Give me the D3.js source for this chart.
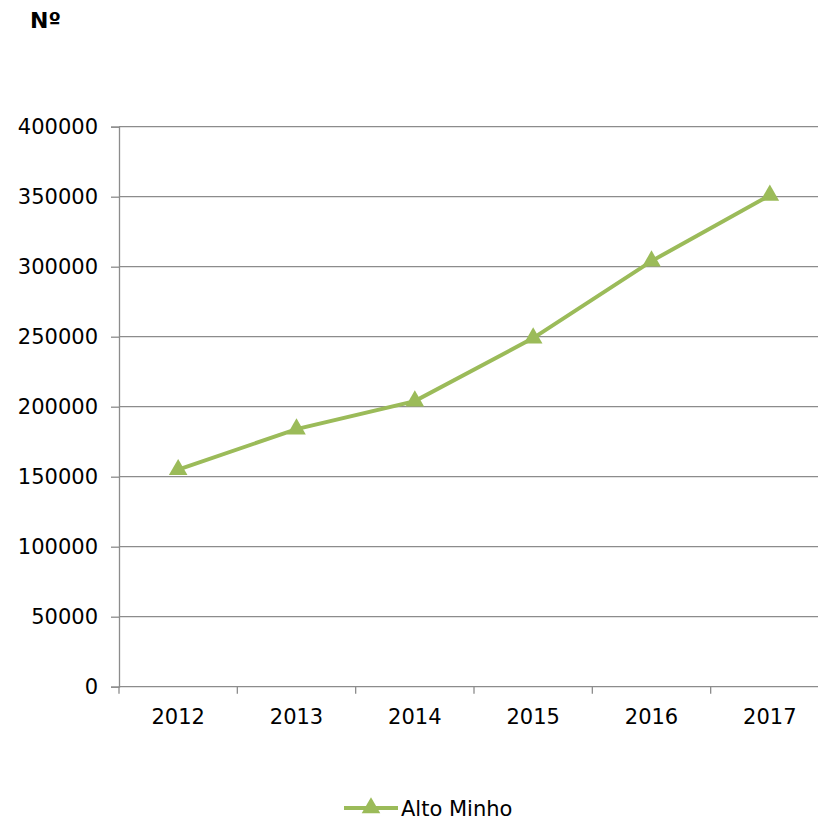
<!DOCTYPE html>
<html>
<head>
<meta charset="utf-8">
<script src="https://cdn.jsdelivr.net/npm/d3@7"></script>
<style>
  body { margin: 0; background: #fff; }
  svg { display: block; font-family: "DejaVu Sans", Verdana, sans-serif; }
</style>
</head>
<body>
<script>
const years = ['2012', '2013', '2014', '2015', '2016', '2017'];
const altoMinho = [155000, 184000, 204000, 249000, 304000, 351000];
const yTicks = [0, 50000, 100000, 150000, 200000, 250000, 300000, 350000, 400000];
const seriesName = 'Alto Minho';
const unitLabel = 'Nº';

const W = 818, H = 820;
const plot = { left: 119, right: 829, top: 126.7, bottom: 686.7 };
const green = '#9bbb59';
const grey = '#8c8c8c';
const fs = 21;

const svg = d3.select('body').append('svg')
    .attr('width', W)
    .attr('height', H);

const x = d3.scaleBand()
    .domain(years)
    .range([plot.left, plot.right]);

const y = d3.scaleLinear()
    .domain([0, 400000])
    .range([plot.bottom, plot.top]);

// gridlines
svg.append('g')
   .selectAll('line')
   .data(yTicks.filter(d => d > 0))
   .enter()
   .append('line')
   .attr('x1', plot.left)
   .attr('x2', plot.right)
   .attr('y1', d => y(d))
   .attr('y2', d => y(d))
   .attr('stroke', grey)
   .attr('stroke-width', 1.3);

// y axis
const yAxis = d3.axisLeft(y)
    .tickValues(yTicks)
    .tickFormat(d3.format('d'))
    .tickSize(8)
    .tickPadding(13);

const gy = svg.append('g')
   .attr('transform', 'translate(' + plot.left + ',0)')
   .call(yAxis);
gy.select('.domain').attr('stroke', grey).attr('stroke-width', 1.3);
gy.selectAll('.tick line').attr('stroke', grey).attr('stroke-width', 1.3);
gy.selectAll('.tick text')
  .attr('font-size', fs)
  .attr('font-family', '"DejaVu Sans", Verdana, sans-serif')
  .attr('fill', '#000');

// x axis, ticks between categories
const gx = svg.append('g')
   .attr('transform', 'translate(0,' + plot.bottom + ')');
gx.append('line')
  .attr('x1', plot.left)
  .attr('x2', plot.right)
  .attr('stroke', grey)
  .attr('stroke-width', 1.3);
gx.selectAll('line.tk')
  .data(years)
  .enter()
  .append('line')
  .attr('class', 'tk')
  .attr('x1', d => x(d))
  .attr('x2', d => x(d))
  .attr('y1', 0)
  .attr('y2', 7)
  .attr('stroke', grey)
  .attr('stroke-width', 1.3);
gx.selectAll('text')
  .data(years)
  .enter()
  .append('text')
  .attr('x', d => x(d) + x.bandwidth() / 2)
  .attr('y', 37)
  .attr('text-anchor', 'middle')
  .attr('font-size', fs)
  .text(d => d);

// line
const line = d3.line()
    .x((d, i) => x(years[i]) + x.bandwidth() / 2)
    .y(d => y(d));

svg.append('path')
   .datum(altoMinho)
   .attr('d', line)
   .attr('fill', 'none')
   .attr('stroke', green)
   .attr('stroke-width', 4);

const tri = d3.symbol().type(d3.symbolTriangle).size(150);

svg.append('g')
   .selectAll('path')
   .data(altoMinho)
   .enter()
   .append('path')
   .attr('d', tri)
   .attr('transform', (d, i) => 'translate(' + (x(years[i]) + x.bandwidth() / 2) + ',' + y(d) + ')')
   .attr('fill', green);

// unit label
svg.append('text')
   .attr('x', 30)
   .attr('y', 28)
   .attr('font-size', 22)
   .attr('font-weight', 'bold')
   .text(unitLabel);

// legend
const legend = svg.append('g')
   .attr('transform', 'translate(344,808)');
legend.append('line')
   .attr('x1', 0)
   .attr('x2', 54)
   .attr('stroke', green)
   .attr('stroke-width', 4);
legend.append('path')
   .attr('d', tri)
   .attr('transform', 'translate(27,0)')
   .attr('fill', green);
legend.append('text')
   .attr('x', 57)
   .attr('y', 8)
   .attr('font-size', fs)
   .text(seriesName);
</script>
</body>
</html>
